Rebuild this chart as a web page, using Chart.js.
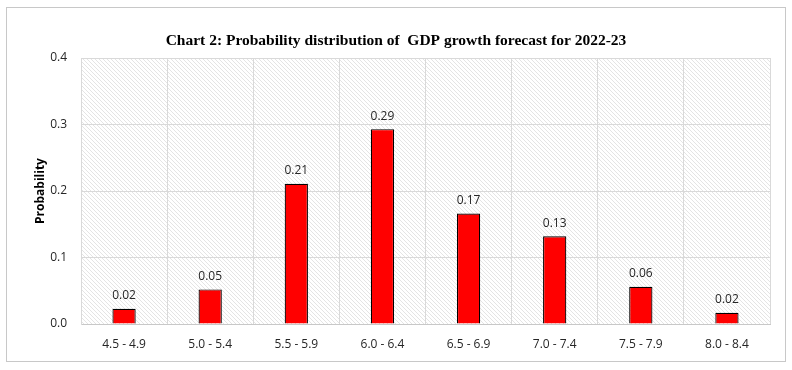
<!DOCTYPE html>
<html>
<head>
<meta charset="utf-8">
<script src="https://cdn.jsdelivr.net/npm/chart.js@4"></script>
<style>
    body { margin: 0; background: #fff; }
    #caixa { position: absolute; left: 0; top: 0; width: 792px; height: 370px; }
    #moldura { position: absolute; left: 6px; top: 7px; width: 778px; height: 353px; border: 1px solid #c8c8c8; pointer-events: none; }
</style>
</head>
<body>
<div id="caixa"><canvas id="grafico" width="792" height="370"></canvas></div>
<div id="moldura"></div>
<script>
const faixas = ["4.5 - 4.9", "5.0 - 5.4", "5.5 - 5.9", "6.0 - 6.4", "6.5 - 6.9", "7.0 - 7.4", "7.5 - 7.9", "8.0 - 8.4"];
const probabilidades = [0.023, 0.052, 0.211, 0.293, 0.166, 0.132, 0.056, 0.017];
const rotulos = ["0.02", "0.05", "0.21", "0.29", "0.17", "0.13", "0.06", "0.02"];
const titulo = "Chart 2: Probability distribution of  GDP growth forecast for 2022-23";

const corBarra = "#ff0000";
const fonteTexto = "'Open Sans', 'Liberation Sans', sans-serif";

function criarHachura() {
    const c = document.createElement("canvas");
    c.width = 4;
    c.height = 4;
    const g = c.getContext("2d");
    g.fillStyle = "#ffffff";
    g.fillRect(0, 0, 4, 4);
    g.strokeStyle = "#e4e4e4";
    g.lineWidth = 1;
    g.beginPath();
    g.moveTo(-1, -1);
    g.lineTo(5, 5);
    g.stroke();
    return g.createPattern(c, "repeat");
}

const fundoHachurado = {
    id: "fundoHachurado",
    beforeDraw(chart) {
        const { ctx, chartArea } = chart;
        ctx.save();
        ctx.fillStyle = criarHachura();
        ctx.fillRect(chartArea.left, chartArea.top, chartArea.right - chartArea.left, chartArea.bottom - chartArea.top);
        // titulo centrado na largura toda do quadro
        ctx.font = "bold 15.5px 'Liberation Serif', serif";
        ctx.fillStyle = "#000000";
        ctx.textAlign = "center";
        ctx.textBaseline = "middle";
        ctx.fillText(titulo, chart.width / 2, 41);
        ctx.restore();
    }
};

const rotulosDasBarras = {
    id: "rotulosDasBarras",
    afterDatasetsDraw(chart) {
        const ctx = chart.ctx;
        const meta = chart.getDatasetMeta(0);
        ctx.save();
        ctx.font = `12px ${fonteTexto}`;
        ctx.fillStyle = "#262626";
        ctx.textAlign = "center";
        ctx.textBaseline = "bottom";
        meta.data.forEach((barra, i) => {
            ctx.fillText(rotulos[i], barra.x, barra.y - 7);
        });
        ctx.restore();
    }
};

new Chart(document.querySelector("#grafico"), {
    type: "bar",
    data: {
        labels: faixas,
        datasets: [{
            data: probabilidades,
            backgroundColor: corBarra,
            borderColor: "#000000",
            borderWidth: 1.2,
            barPercentage: 0.27,
            categoryPercentage: 1
        }]
    },
    options: {
        responsive: false,
        animation: false,
        layout: { padding: { left: 0, right: 22, top: 58, bottom: 0 } },
        plugins: {
            legend: { display: false },
            tooltip: { enabled: false },
            title: { display: false }
        },
        scales: {
            x: {
                offset: true,
                grid: { offset: true, color: "#d9d9d9", drawTicks: false },
                border: { color: "#c8c8c8" },
                ticks: { color: "#262626", font: { family: fonteTexto, size: 12 }, padding: 13 },
                afterFit: s => { s.height = 46; }
            },
            y: {
                min: 0,
                max: 0.4,
                ticks: {
                    stepSize: 0.1,
                    color: "#262626",
                    font: { family: fonteTexto, size: 12 },
                    padding: 14,
                    callback: v => v.toFixed(1)
                },
                grid: { color: "#d9d9d9", drawTicks: false },
                border: { color: "#d9d9d9" },
                title: {
                    display: true,
                    text: "Probability",
                    color: "#000000",
                    padding: { top: 33, bottom: 0 },
                    font: { family: fonteTexto, size: 12, weight: "bold" }
                },
                afterFit: s => { s.width = 81; }
            }
        }
    },
    plugins: [fundoHachurado, rotulosDasBarras]
});
</script>
</body>
</html>
